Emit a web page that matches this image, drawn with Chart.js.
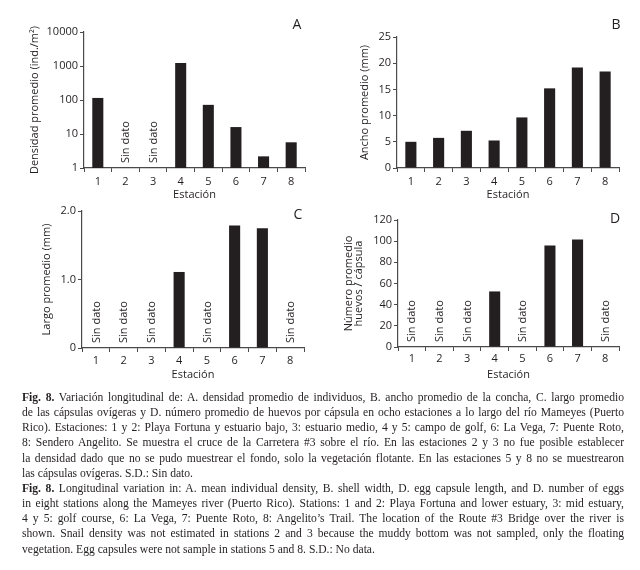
<!DOCTYPE html>
<html><head><meta charset="utf-8">
<script src="https://cdn.jsdelivr.net/npm/chart.js@4"></script>
<style>
body{margin:0;width:640px;height:570px;background:#fff;position:relative;overflow:hidden}
.w{position:absolute}
#cap{position:absolute;left:22px;top:390px;width:602px;font-family:"Liberation Serif","Times New Roman",serif;font-size:11.6px;line-height:15.15px;color:#231f20}
#cap div{text-align:justify;text-align-last:justify;white-space:nowrap}
#cap div.last{text-align-last:left}
</style></head><body>
<div class="w" style="left:0;top:0"><canvas id="cA" width="320" height="205"></canvas></div>
<div class="w" style="left:320px;top:0"><canvas id="cB" width="320" height="205"></canvas></div>
<div class="w" style="left:0;top:195px"><canvas id="cC" width="320" height="190"></canvas></div>
<div class="w" style="left:320px;top:195px"><canvas id="cD" width="320" height="190"></canvas></div>
<div id="cap">
<div><b>Fig. 8.</b> Variación longitudinal de: A. densidad promedio de individuos, B. ancho promedio de la concha, C. largo promedio</div>
<div>de las cápsulas ovígeras y D. número promedio de huevos por cápsula en ocho estaciones a lo largo del río Mameyes (Puerto</div>
<div>Rico). Estaciones: 1 y 2: Playa Fortuna y estuario bajo, 3: estuario medio, 4 y 5: campo de golf, 6: La Vega, 7: Puente Roto,</div>
<div>8: Sendero Angelito. Se muestra el cruce de la Carretera #3 sobre el río. En las estaciones 2 y 3 no fue posible establecer</div>
<div>la densidad dado que no se pudo muestrear el fondo, solo la vegetación flotante. En las estaciones 5 y 8 no se muestrearon</div>
<div class="last">las cápsulas ovígeras. S.D.: Sin dato.</div>
<div><b>Fig. 8.</b> Longitudinal variation in: A. mean individual density, B. shell width, D. egg capsule length, and D. number of eggs</div>
<div>in eight stations along the Mameyes river (Puerto Rico). Stations: 1 and 2: Playa Fortuna and lower estuary, 3: mid estuary,</div>
<div>4 y 5: golf course, 6: La Vega, 7: Puente Roto, 8: Angelito’s Trail. The location of the Route #3 Bridge over the river is</div>
<div>shown. Snail density was not estimated in stations 2 and 3 because the muddy bottom was not sampled, only the floating</div>
<div class="last">vegetation. Egg capsules were not sample in stations 5 and 8. S.D.: No data.</div>
</div>
<script>
const stations = ['1','2','3','4','5','6','7','8'];
const densidad = [115, null, null, 1220, 72, 16, 2.2, 5.7];
const ancho = [5.0, 5.75, 7.1, 5.25, 9.65, 15.2, 19.2, 18.4];
const largo = [null, null, null, 1.11, null, 1.79, 1.75, null];
const huevos = [null, null, null, 52.5, null, 96, 101.5, null];
const ticksA = [1, 10, 100, 1000, 10000];
const ticksB = [0, 5, 10, 15, 20, 25];
const ticksC = [0, 1, 2];
const ticksD = [0, 20, 40, 60, 80, 100, 120];
const noDataText = 'Sin dato';
const xTitle = 'Estación';

const FONT = '"Open Sans", "DejaVu Sans", sans-serif';
const INK = '#231f20';
const AXIS = '#4a4a4a';
const FS = 11, LH = FS * 1.2;

const extras = {
  id: 'extras',
  afterDatasetsDraw(chart, args, o) {
    const ctx = chart.ctx, xs = chart.scales.x, ys = chart.scales.y;
    ctx.save();
    ctx.fillStyle = INK;
    ctx.font = FS + 'px ' + FONT;
    const data = chart.data.datasets[0].data;
    data.forEach((v, i) => {
      if (v === null) {
        const x = xs.getPixelForValue(i);
        ctx.save();
        ctx.translate(x + 0.5, ys.bottom - 5);
        ctx.rotate(-Math.PI / 2);
        ctx.textAlign = 'left';
        ctx.textBaseline = 'middle';
        ctx.fillText(noDataText, 0, 0);
        ctx.restore();
      }
    });
    ctx.font = '14px ' + FONT;
    ctx.textAlign = 'center';
    ctx.textBaseline = 'middle';
    ctx.fillText(o.letter, o.lx, o.ly);
    ctx.restore();
  }
};

function panel(id, data, cfg) {
  const cv = document.getElementById(id);
  const W = cv.width, H = cv.height;
  const a = cfg.area;
  const tlh = cfg.titleLH || LH;
  new Chart(cv, {
    type: 'bar',
    data: { labels: stations, datasets: [{ data: data, backgroundColor: INK, borderWidth: 0, barPercentage: 0.4, categoryPercentage: 1 }] },
    options: {
      responsive: false, animation: false, devicePixelRatio: 1,
      layout: { padding: { left: 0, top: a.t, right: W - a.r, bottom: 0 } },
      plugins: { legend: { display: false }, tooltip: { enabled: false },
        extras: { letter: cfg.letter, lx: cfg.lx, ly: cfg.ly } },
      scales: {
        x: {
          type: 'category', offset: true,
          grid: { display: true, offset: true, drawOnChartArea: false, drawTicks: true, tickLength: 4, color: AXIS, lineWidth: 1 },
          border: { display: true, color: AXIS, width: 1.2 },
          ticks: { color: INK, font: { family: FONT, size: FS }, padding: cfg.xlabY - a.b - 4 - LH / 2, maxRotation: 0, autoSkip: false },
          title: { display: true, text: xTitle, color: INK, font: { family: FONT, size: FS }, padding: { top: 0, bottom: H - cfg.xtitY - LH / 2 } },
          afterFit(s) { s.height = H - a.b; }
        },
        y: Object.assign({
          grid: { display: true, drawOnChartArea: false, drawTicks: true, tickLength: 4, color: AXIS, lineWidth: 1 },
          border: { display: true, color: AXIS, width: 1.2 },
          ticks: { color: INK, font: { family: FONT, size: FS }, padding: 2, autoSkip: false,
            callback: cfg.fmt || (v => String(v)) },
          title: { display: true, text: cfg.ytitle, color: INK, font: { family: FONT, size: FS, lineHeight: tlh / FS }, padding: { top: cfg.ytitX - tlh / 2, bottom: 0 } },
          afterBuildTicks(s) { s.ticks = cfg.ticks.map(v => ({ value: v })); },
          afterFit(s) { s.width = a.l; }
        }, cfg.y)
      }
    },
    plugins: [extras]
  });
}

panel('cA', densidad, {
  area: { l: 84, t: 32, r: 305, b: 168 }, xlabY: 181.7, xtitY: 195, ytitX: 35,
  ytitle: 'Densidad promedio (ind./m²)', ticks: ticksA, letter: 'A', lx: 297, ly: 25,
  y: { type: 'logarithmic', min: 1, max: 10000 }
});
panel('cB', ancho, {
  area: { l: 77, t: 37, r: 299, b: 168 }, xlabY: 181.7, xtitY: 195, ytitX: 45,
  ytitle: 'Ancho promedio (mm)', ticks: ticksB, letter: 'B', lx: 296, ly: 25,
  y: { type: 'linear', min: 0, max: 25 }
});
panel('cC', largo, {
  area: { l: 82, t: 16, r: 304, b: 153 }, xlabY: 165.7, xtitY: 180, ytitX: 47,
  ytitle: 'Largo promedio (mm)', ticks: ticksC, letter: 'C', lx: 298, ly: 20,
  fmt: v => v === 0 ? '0' : v.toFixed(1),
  y: { type: 'linear', min: 0, max: 2 }
});
panel('cD', huevos, {
  area: { l: 78, t: 25, r: 299, b: 152 }, xlabY: 164, xtitY: 180, ytitX: 29, titleLH: 9.5,
  ytitle: ['Número promedio', 'huevos / cápsula'], ticks: ticksD, letter: 'D', lx: 295, ly: 24,
  y: { type: 'linear', min: 0, max: 120 }
});
</script>
</body></html>
